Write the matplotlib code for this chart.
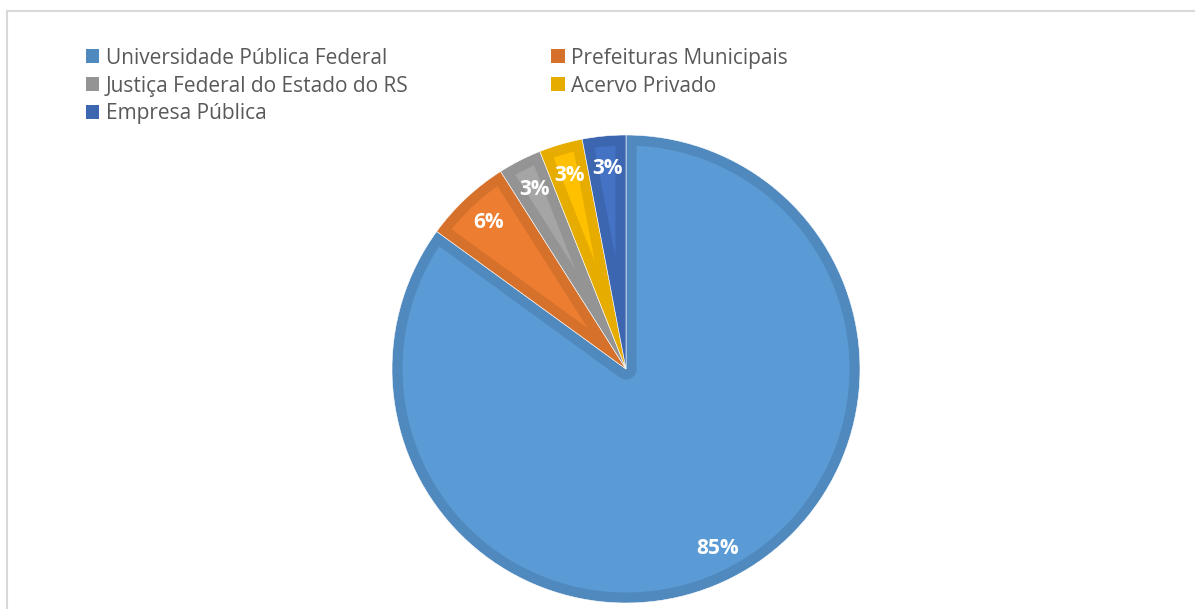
import numpy as np
import matplotlib
matplotlib.use("Agg")
import matplotlib.pyplot as plt
from matplotlib.patches import Polygon, Patch
from matplotlib.lines import Line2D

categories = ["Universidade Pública Federal", "Prefeituras Municipais",
              "Justiça Federal do Estado do RS", "Acervo Privado", "Empresa Pública"]
values = [85, 6, 3, 3, 3]
fill_colors = ["#5B9BD5", "#ED7D31", "#A5A5A5", "#FFC000", "#4472C4"]
edge_colors = ["#5089BE", "#D6712B", "#949494", "#E6AD00", "#3D66B0"]

W, H = 1195, 609
fig = plt.figure(figsize=(W / 100, H / 100), dpi=100)
fig.patch.set_facecolor("white")

# chart frame (top and left lines only visible)
fig.add_artist(Line2D([7 / W, 1], [1 - 11 / H, 1 - 11 / H], color="#D9D9D9", lw=1.5))
fig.add_artist(Line2D([7 / W, 7 / W], [0, 1 - 11 / H], color="#D9D9D9", lw=1.5))

cx, cy, R = 626, 369, 234
ax = fig.add_axes([(cx - R) / W, (H - cy - R) / H, 2 * R / W, 2 * R / H])

wedges, texts, autotexts = ax.pie(
    values, colors=edge_colors, startangle=90, counterclock=False,
    autopct="%1.0f%%", pctdistance=0.86,
    wedgeprops=dict(edgecolor="white", linewidth=0.4),
    textprops=dict(color="white", fontsize=15, fontweight="bold", family="Open Sans"))

d = 0.045  # inset border width (radius units)


def inset_poly(t1, t2, r=1.0, d=d):
    a1, a2 = np.radians(t1), np.radians(t2)
    span = a2 - a1
    rin = r - d
    da = np.arcsin(d / rin)
    arc = np.linspace(a1 + da, a2 - da, 200)
    pts = [(rin * np.cos(a), rin * np.sin(a)) for a in arc]
    if span < np.pi:
        mid = (a1 + a2) / 2
        dist = d / np.sin(span / 2)
        pts.append((dist * np.cos(mid), dist * np.sin(mid)))
    else:
        n2 = a2 - np.pi / 2
        n1 = a1 + np.pi / 2
        small = np.linspace(n2, n1 - 2 * np.pi, 50) if n1 > n2 else np.linspace(n2, n1, 50)
        pts += [(d * np.cos(a), d * np.sin(a)) for a in small]
    return pts


for w, fc in zip(wedges, fill_colors):
    poly = Polygon(inset_poly(w.theta1, w.theta2), closed=True, facecolor=fc,
                   edgecolor="none", zorder=w.get_zorder() + 0.1)
    ax.add_patch(poly)
for t in autotexts:
    t.set_zorder(5)

ax.set_xlim(-1, 1)
ax.set_ylim(-1, 1)
ax.axis("off")

# legend (row-wise order as in the reference)
order = [0, 2, 4, 1, 3]
handles = [Patch(facecolor=edge_colors[i], edgecolor="none") for i in order]
labels = [categories[i] for i in order]
leg = fig.legend(handles, labels, ncol=2, loc="upper left",
                 bbox_to_anchor=(67 / W, 1 - 29 / H), frameon=False,
                 prop=dict(family="Open Sans", size=15), labelcolor="#595959",
                 handlelength=0.65, handleheight=0.65, handletextpad=0.3,
                 columnspacing=6.85, labelspacing=0.33)

fig.savefig("out.png", dpi=100, facecolor="white")
